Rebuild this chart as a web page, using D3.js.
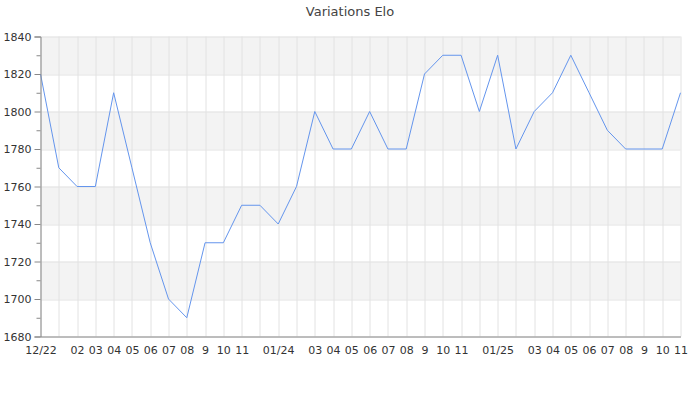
<!DOCTYPE html>
<html lang="fr">
<head>
<meta charset="utf-8">
<script src="https://d3js.org/d3.v7.min.js"></script>
<style>
    body { margin: 0; background: #fff; }
    text { font-family: "DejaVu Sans", sans-serif; }
</style>
</head>
<body>
<svg id="chart"></svg>
<script>
// Monthly points, 12/2022 -> 11/2025
var months = [
    "2022-12", "2023-01", "2023-02", "2023-03", "2023-04", "2023-05", "2023-06",
    "2023-07", "2023-08", "2023-09", "2023-10", "2023-11", "2023-12",
    "2024-01", "2024-02", "2024-03", "2024-04", "2024-05", "2024-06",
    "2024-07", "2024-08", "2024-09", "2024-10", "2024-11", "2024-12",
    "2025-01", "2025-02", "2025-03", "2025-04", "2025-05", "2025-06",
    "2025-07", "2025-08", "2025-09", "2025-10", "2025-11"
];
var elo = [
    1820, 1770, 1760, 1760, 1810, 1770, 1730,
    1700, 1690, 1730, 1730, 1750, 1750,
    1740, 1760, 1800, 1780, 1780, 1800,
    1780, 1780, 1820, 1830, 1830, 1800,
    1830, 1780, 1800, 1810, 1830, 1810,
    1790, 1780, 1780, 1780, 1810
];
// labels shown under the axis (blank = hidden because it would overlap)
var tickLabels = [
    "12/22", "", "02", "03", "04", "05", "06", "07", "08", "9", "10", "11", "",
    "01/24", "", "03", "04", "05", "06", "07", "08", "9", "10", "11", "",
    "01/25", "", "03", "04", "05", "06", "07", "08", "9", "10", "11"
];
var yTicks = [1680, 1700, 1720, 1740, 1760, 1780, 1800, 1820, 1840];

var width = 700, height = 400;
var m = {top: 36.5, right: 19.5, bottom: 63.5, left: 40.5};
var iw = width - m.left - m.right, ih = height - m.top - m.bottom;

var svg = d3.select("#chart").attr("width", width).attr("height", height);

svg.append("text")
    .attr("x", width / 2)
    .attr("y", 16)
    .attr("text-anchor", "middle")
    .style("font-size", "13px")
    .style("fill", "#444")
    .text("Variations Elo");

var g = svg.append("g").attr("transform", "translate(" + m.left + "," + m.top + ")");

var x = d3.scalePoint().domain(months).range([0, iw]);
var y = d3.scaleLinear().domain([1680, 1840]).range([ih, 0]);

function ry(v) { return Math.round(y(v)); }

// alternating bands
var bands = [[1700, 1720], [1740, 1760], [1780, 1800], [1820, 1840]];
g.selectAll(".band").data(bands).enter().append("rect")
    .attr("x", 0)
    .attr("width", iw)
    .attr("y", function(d) { return ry(d[1]); })
    .attr("height", function(d) { return ry(d[0]) - ry(d[1]); })
    .style("fill", "#f3f3f3");

// horizontal grid
g.selectAll(".hgrid").data(yTicks).enter().append("line")
    .attr("x1", 0).attr("x2", iw)
    .attr("y1", function(d) { return ry(d) + 0.5; })
    .attr("y2", function(d) { return ry(d) + 0.5; })
    .style("stroke", "#e2e2e2");

// vertical grid
g.selectAll(".vgrid").data(months).enter().append("line")
    .attr("x1", function(d) { return Math.round(x(d)) + 0.5; })
    .attr("x2", function(d) { return Math.round(x(d)) + 0.5; })
    .attr("y1", 0).attr("y2", ih)
    .style("stroke", "#e2e2e2");

// the line
var line = d3.line()
    .x(function(d, i) { return x(months[i]); })
    .y(function(d) { return y(d); });

g.append("path")
    .datum(elo)
    .attr("d", line)
    .style("fill", "none")
    .style("stroke", "#6495ed")
    .style("stroke-width", 1);

// y axis with minor ticks
var yMinor = d3.range(1690, 1840, 20);
var yMin = g.append("g")
    .call(d3.axisLeft(y).tickValues(yMinor).tickSize(4).tickFormat(""));
yMin.select(".domain").remove();
yMin.selectAll("line").style("stroke", "#888");

var yAxis = g.append("g")
    .call(d3.axisLeft(y).tickValues(yTicks).tickSize(6).tickPadding(3).tickFormat(d3.format("d")));
yAxis.select(".domain").style("stroke", "#888");
yAxis.selectAll("line").style("stroke", "#888");
yAxis.selectAll("text").style("font-size", "11px").style("fill", "#333");

// x axis
var xAxis = g.append("g")
    .attr("transform", "translate(0," + ih + ")")
    .call(d3.axisBottom(x).tickSize(0).tickPadding(10)
        .tickFormat(function(d, i) { return tickLabels[i]; }));
xAxis.select(".domain").style("stroke", "#888");
xAxis.selectAll("text").style("font-size", "11px").style("fill", "#333");
</script>
</body>
</html>
